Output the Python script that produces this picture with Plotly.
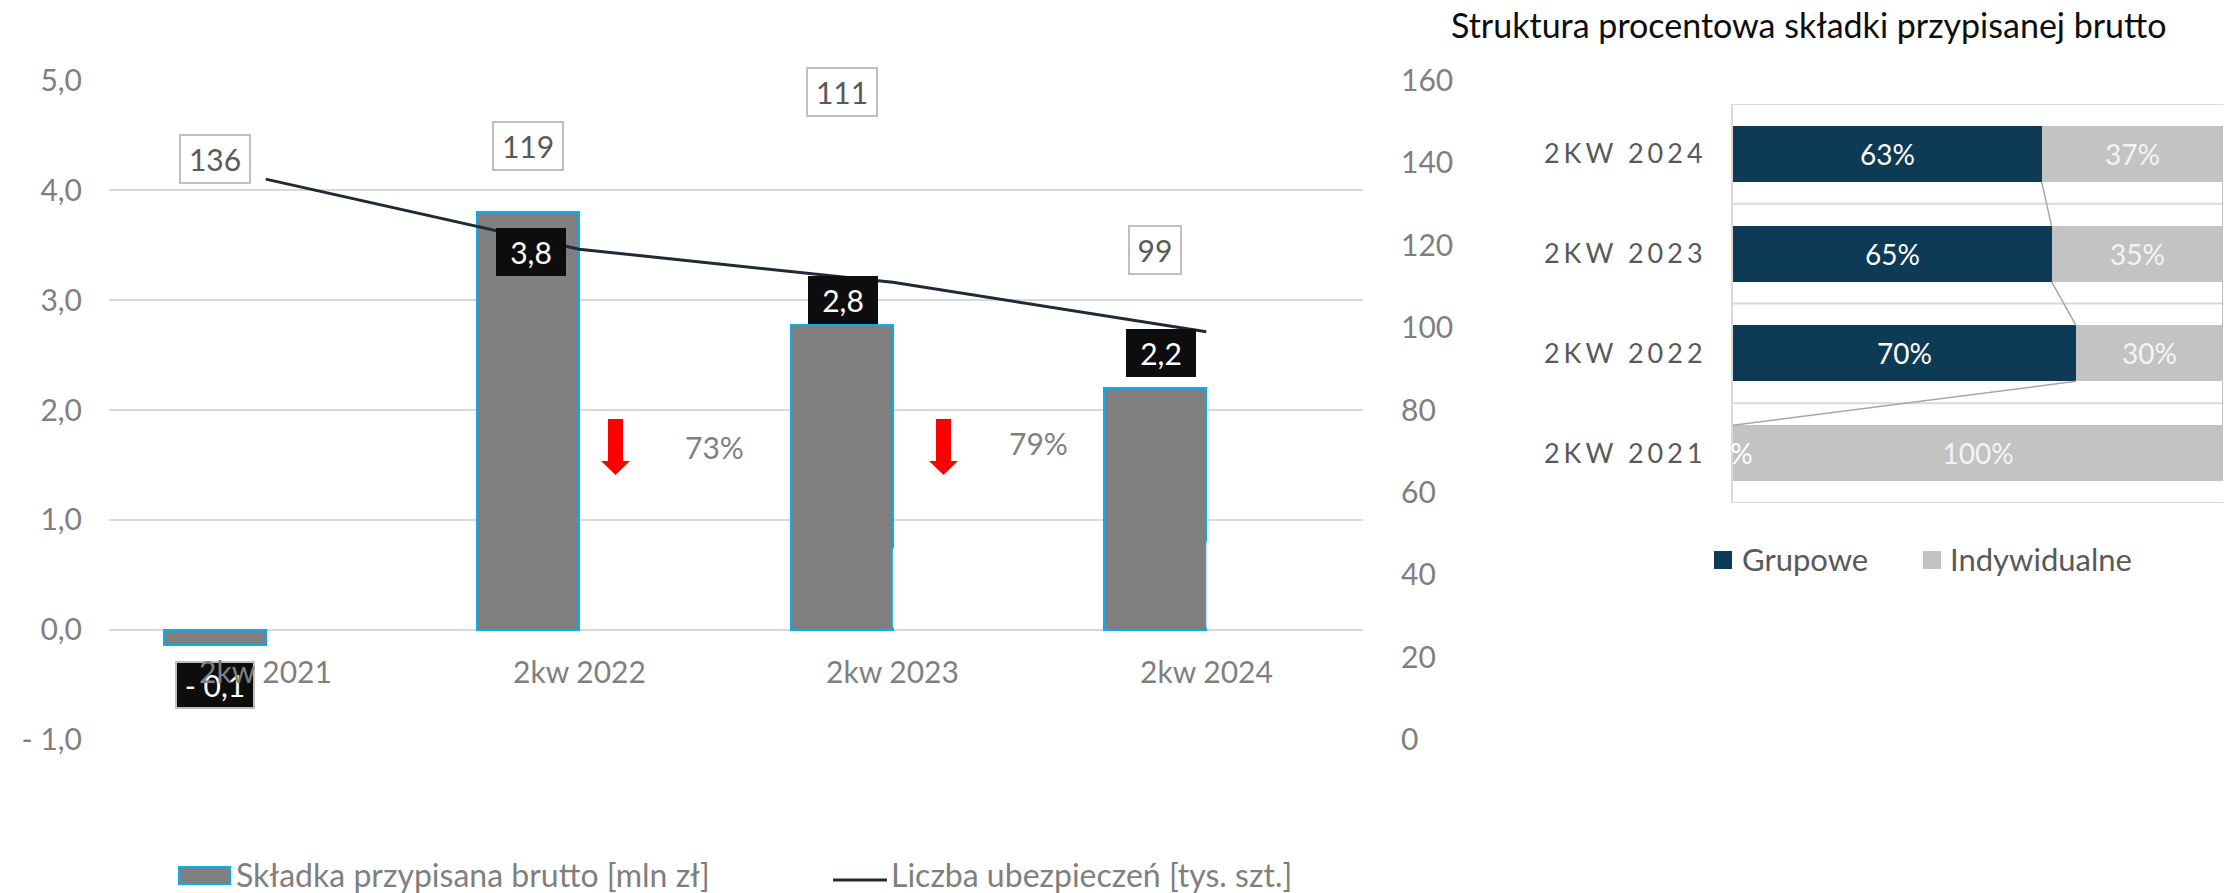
import plotly.graph_objects as go

W, H = 2231, 893

# ---- data -----------------------------------------------------------------
categories = ["2kw 2021", "2kw 2022", "2kw 2023", "2kw 2024"]
premium = [-0.14, 3.8, 2.77, 2.2]          # składka przypisana brutto [mln zł]
policies = [136, 119, 111, 99]             # liczba ubezpieczeń [tys. szt.]

struct_categories = ["2KW 2021", "2KW 2022", "2KW 2023", "2KW 2024"]
group_share = [0, 70, 65, 63]              # Grupowe [%]
individual_share = [100, 30, 35, 37]       # Indywidualne [%]

left_ticks = [-1, 0, 1, 2, 3, 4, 5]
right_ticks = [0, 20, 40, 60, 80, 100, 120, 140, 160]

# ---- style ----------------------------------------------------------------
FONT = "Lato"
GRAY_TXT = "#7f7f7f"
DARK_TXT = "#595959"
GRID = "#d9d9d9"
BAR_FILL = "#7f7f7f"
BAR_EDGE = "#00b0f0"
LINE_COL = "#1f2a36"
GROUP_COL = "#0d3a54"
INDIV_COL = "#c3c3c3"


def px(x, y):
    """Pixel position in the page -> paper coordinates (margins are zero)."""
    return x / W, 1 - y / H


def pl(v, d=1):
    s = f"{abs(v):.{d}f}".replace(".", ",")
    return "- " + s if v < 0 else s


def paper_text(x, y, text, size, color, anchor="center"):
    ax, ay = px(x, y)
    return dict(xref="paper", yref="paper", x=ax, y=ay, xanchor=anchor, yanchor="middle",
                text=text, showarrow=False, font=dict(color=color, size=size, family=FONT))


# left panel geometry
Y_LO, Y_HI = -1.002, 5.002
Y2_LO, Y2_HI = (Y_LO + 1) * 160 / 6, (Y_HI + 1) * 160 / 6
BAR_W = 0.325

fig = go.Figure()

fig.add_trace(go.Bar(
    x=categories, y=premium, xaxis="x", yaxis="y",
    offset=-BAR_W, width=BAR_W,
    marker=dict(color=BAR_FILL, line=dict(color=BAR_EDGE, width=2)),
    hoverinfo="skip",
))
fig.add_trace(go.Scatter(
    x=categories, y=policies, xaxis="x", yaxis="y2", mode="lines",
    line=dict(color=LINE_COL, width=3), hoverinfo="skip",
))

# right panel: stacked horizontal shares
pos = list(range(len(struct_categories)))
HB = 0.56
fig.add_trace(go.Bar(
    y=pos, x=group_share, orientation="h", xaxis="x2", yaxis="y3", width=HB,
    marker=dict(color=GROUP_COL, line=dict(width=0)),
    text=[f"{v}%" if v else "" for v in group_share],
    textposition="inside", insidetextanchor="middle", textangle=0,
    textfont=dict(color="white", size=28, family=FONT), hoverinfo="skip",
))
fig.add_trace(go.Bar(
    y=pos, x=individual_share, orientation="h", xaxis="x2", yaxis="y3", width=HB,
    marker=dict(color=INDIV_COL, line=dict(width=0)),
    text=[f"{v}%" if v else "" for v in individual_share],
    textposition="inside", insidetextanchor="middle", textangle=0,
    textfont=dict(color="#f4f4f4", size=28, family=FONT), hoverinfo="skip",
))

# series lines joining consecutive bars
sx, sy = [], []
cum = [g + i for g, i in zip(group_share, individual_share)]
for k in range(len(pos) - 1, 0, -1):
    for ends in (group_share, cum):
        sx += [ends[k], ends[k - 1], None]
        sy += [pos[k] - HB / 2, pos[k - 1] + HB / 2, None]
fig.add_trace(go.Scatter(
    x=sx, y=sy, xaxis="x2", yaxis="y3", mode="lines",
    line=dict(color="#a6a6a6", width=1.5), hoverinfo="skip", cliponaxis=False,
))

shapes = []
annotations = []

# category band separators in the right panel
for b in [p - 0.5 for p in pos] + [pos[-1] + 0.5]:
    shapes.append(dict(type="line", xref="x2", yref="y3", x0=0, x1=100, y0=b, y1=b,
                       line=dict(color=GRID, width=2), layer="below"))

# zero-share label sitting on the axis
for p, g in zip(pos, group_share):
    if g == 0:
        annotations.append(dict(xref="x2", yref="y3", x=0, y=p, text=f"{g}%",
                                showarrow=False, xanchor="center", yanchor="middle",
                                font=dict(color="white", size=28, family=FONT)))

# small white masks over the lower right edge of two bars and part of the bottom grid
for ci, top in ((2, 0.74), (3, 0.80)):
    shapes.append(dict(type="line", xref="x", yref="y", x0=ci + 0.005, x1=ci + 0.005,
                       y0=0.02, y1=top, line=dict(color="white", width=3), layer="above"))
gx0, gy = px(578, 740)
gx1, _ = px(680, 740)
shapes.append(dict(type="line", xref="paper", yref="paper", x0=gx0, x1=gx1, y0=gy, y1=gy,
                   line=dict(color="white", width=4), layer="above"))

# line value labels (white boxes)
line_yshift = [20, 103, 190, 82]
for c, v, ys in zip(categories, policies, line_yshift):
    annotations.append(dict(
        xref="x", yref="y2", x=c, y=v, xshift=-51, yshift=ys, text=str(v),
        xanchor="center", yanchor="middle",
        showarrow=False, bgcolor="white", bordercolor="#bfbfbf", borderwidth=2,
        borderpad=0, width=18 * len(str(v)) + 14, height=46,
        font=dict(color=DARK_TXT, size=30, family=FONT)))

# bar value labels (black boxes)
bar_yshift = [-40, -40, 25, 35]
bar_xshift = [0, 3, 1, 6]
for c, v, ys, xs in zip(categories, premium, bar_yshift, bar_xshift):
    annotations.append(dict(
        xref="x", yref="y", x=c, y=v, xshift=-51 + xs, yshift=ys, text=pl(v),
        xanchor="center", yanchor="middle",
        showarrow=False, bgcolor="#0d0d0d",
        bordercolor="#bfbfbf" if v < 0 else "#0d0d0d", borderwidth=2,
        borderpad=0, width=76 if v < 0 else 66, height=44,
        font=dict(color="white", size=30, family=FONT)))

# category labels under the zero line
for c in categories:
    annotations.append(dict(
        xref="x", yref="y", x=c, y=0, yshift=-41, text=c, showarrow=False,
        xanchor="center", yanchor="middle",
        font=dict(color=GRAY_TXT, size=30, family=FONT)))

# year-on-year change markers
for k, (ax_, tx, ty) in enumerate(((615.5, 714, 447), (943.5, 1038, 443))):
    ratio = premium[k + 2] / premium[k + 1]
    annotations.append(paper_text(tx, ty, f"{ratio:.0%}", 30, GRAY_TXT))
    pts = [(ax_ - 7.5, 419), (ax_ + 7.5, 419), (ax_ + 7.5, 461), (ax_ + 14.5, 461),
           (ax_, 475), (ax_ - 14.5, 461), (ax_ - 7.5, 461)]
    path = "M " + " L ".join(f"{px(a, b)[0]:.5f},{px(a, b)[1]:.5f}" for a, b in pts) + " Z"
    shapes.append(dict(type="path", xref="paper", yref="paper", path=path,
                       fillcolor="#ff0000", line=dict(width=0), layer="above"))

# legend of the left panel
x0, y0 = px(179, 867)
x1, y1 = px(230, 884)
shapes.append(dict(type="rect", xref="paper", yref="paper", x0=x0, x1=x1, y0=y0, y1=y1,
                   fillcolor=BAR_FILL, line=dict(color=BAR_EDGE, width=2)))
annotations.append(paper_text(234, 874, "Składka przypisana brutto [mln zł]", 32,
                              GRAY_TXT, "left"))
x0, y0 = px(833, 880)
x1, _ = px(887, 880)
shapes.append(dict(type="line", xref="paper", yref="paper", x0=x0, x1=x1, y0=y0, y1=y0,
                   line=dict(color=LINE_COL, width=3)))
annotations.append(paper_text(889, 874, "Liczba ubezpieczeń [tys. szt.]", 32,
                              GRAY_TXT, "left"))

# legend of the right panel
for (sx0, tx, label, col) in ((1714, 1740, "Grupowe", GROUP_COL),
                              (1923, 1948, "Indywidualne", INDIV_COL)):
    a0, b0 = px(sx0, 569)
    a1, b1 = px(sx0 + 18, 551)
    shapes.append(dict(type="rect", xref="paper", yref="paper", x0=a0, x1=a1, y0=b0, y1=b1,
                       fillcolor=col, line=dict(width=0)))
    annotations.append(paper_text(tx, 559, label, 31, DARK_TXT, "left"))

# right panel title
annotations.append(paper_text(1808, 25, "Struktura procentowa składki przypisanej brutto",
                              34, "#0d0d0d"))

spaced = [f'<span style="letter-spacing:4px">{t}</span>' for t in struct_categories]

fig.update_layout(
    width=W, height=H,
    margin=dict(l=0, r=0, t=0, b=0),
    paper_bgcolor="white", plot_bgcolor="rgba(0,0,0,0)",
    font=dict(family=FONT, color=GRAY_TXT),
    showlegend=False, barmode="stack", bargap=0,
    xaxis=dict(domain=[109 / W, 1363 / W], type="category", range=[-0.5, 3.5],
               showticklabels=False, showgrid=False, zeroline=False, showline=False,
               anchor="y", fixedrange=True),
    yaxis=dict(domain=[(H - 740) / H, (H - 80) / H], range=[Y_LO, Y_HI],
               tickvals=left_ticks, ticktext=[pl(v) for v in left_ticks],
               showgrid=True, gridcolor=GRID, gridwidth=2, zeroline=False,
               showline=False, ticks="", ticklabelstandoff=26,
               tickfont=dict(size=30, color=GRAY_TXT, family=FONT), anchor="x",
               automargin=False),
    yaxis2=dict(overlaying="y", side="right", range=[Y2_LO, Y2_HI],
                tickvals=right_ticks, ticktext=[str(v) for v in right_ticks],
                showgrid=False, zeroline=False, showline=False, ticks="",
                ticklabelstandoff=37, anchor="x",
                tickfont=dict(size=30, color=GRAY_TXT, family=FONT), automargin=False),
    xaxis2=dict(domain=[1733 / W, 2223 / W], range=[0, 100], visible=False,
                anchor="y3", fixedrange=True),
    yaxis3=dict(domain=[(H - 503) / H, (H - 104) / H], range=[-0.5, 3.5],
                tickvals=pos, ticktext=spaced, showgrid=False, zeroline=False,
                showline=True, linecolor=GRID, linewidth=2, ticks="",
                ticklabelstandoff=19, anchor="x2",
                tickfont=dict(size=27, color=DARK_TXT, family=FONT), automargin=False),
    shapes=shapes,
    annotations=annotations,
)

fig.write_html("out.html")
